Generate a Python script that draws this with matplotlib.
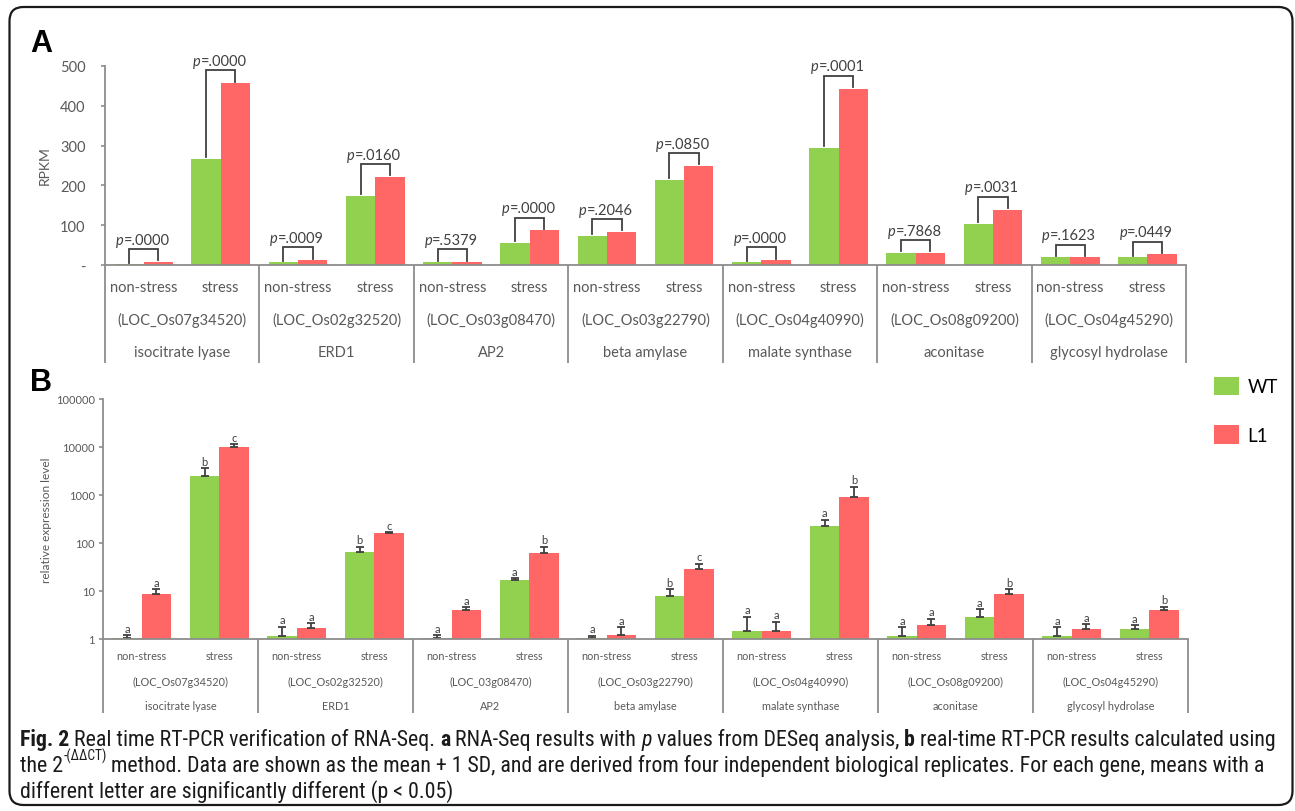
import matplotlib
matplotlib.use("Agg")
import matplotlib.pyplot as plt
import matplotlib.transforms as mtrans
from matplotlib import font_manager
from matplotlib.patches import FancyBboxPatch
from matplotlib.ticker import FixedLocator, FixedFormatter, NullLocator
import numpy as np

# ---------------- data ----------------
genes = ["isocitrate lyase", "ERD1", "AP2", "beta amylase", "malate synthase",
         "aconitase", "glycosyl hydrolase"]
loci_a = ["(LOC_Os07g34520)", "(LOC_Os02g32520)", "(LOC_Os03g08470)", "(LOC_Os03g22790)",
          "(LOC_Os04g40990)", "(LOC_Os08g09200)", "(LOC_Os04g45290)"]
loci_b = ["(LOC_Os07g34520)", "(LOC_Os02g32520)", "(LOC_03g08470)", "(LOC_Os03g22790)",
          "(LOC_Os04g40990)", "(LOC_Os08g09200)", "(LOC_Os04g45290)"]
conditions = ["non-stress", "stress"]
series = ["WT", "L1"]

# Panel A (RPKM), order: gene1 non-stress, gene1 stress, gene2 non-stress, ...
rpkm_wt = [2, 267, 7, 174, 7, 56, 73, 214, 7, 295, 30, 104, 19, 19]
rpkm_l1 = [8, 457, 12, 221, 7, 87, 83, 249, 12, 443, 30, 139, 19, 27]
p_values = [".0000", ".0000", ".0009", ".0160", ".5379", ".0000", ".2046",
            ".0850", ".0000", ".0001", ".7868", ".0031", ".1623", ".0449"]
a_ticks = [0, 100, 200, 300, 400, 500]
a_ticklabels = ["-", "100", "200", "300", "400", "500"]

# Panel B (relative expression, mean and +1 SD)
rel_wt = [1.03, 2520, 1.14, 66, 1.03, 17, 1.03, 8.0, 1.47, 223, 1.14, 2.9, 1.14, 1.59]
rel_wt_sd = [0.17, 1080, 0.66, 18, 0.17, 1.7, 0.14, 3.0, 1.43, 83, 0.61, 1.25, 0.61, 0.34]
rel_l1 = [8.5, 9860, 1.67, 159, 4.08, 61, 1.19, 29, 1.47, 922, 1.93, 8.5, 1.59, 4.08]
rel_l1_sd = [2.5, 1640, 0.45, 8, 0.5, 23, 0.56, 8, 0.83, 568, 0.72, 2.5, 0.46, 0.62]
letters_wt = ["a", "b", "a", "b", "a", "a", "a", "b", "a", "a", "a", "a", "a", "a"]
letters_l1 = ["a", "c", "a", "c", "a", "b", "a", "c", "a", "b", "a", "b", "a", "b"]
b_ticks = [1, 10, 100, 1000, 10000, 100000]
b_ticklabels = ["1", "10", "100", "1000", "10000", "100000"]

# caption pieces: (text, weight, style, size scale, raise in em)
caption_lines = [
    [("Fig. 2", "bold", "normal", 1.0, 0.0),
     (" Real time RT-PCR verification of RNA-Seq. ", "normal", "normal", 1.0, 0.0),
     ("a", "bold", "normal", 1.0, 0.0),
     (" RNA-Seq results with ", "normal", "normal", 1.0, 0.0),
     ("p", "normal", "italic", 1.0, 0.0),
     (" values from DESeq analysis, ", "normal", "normal", 1.0, 0.0),
     ("b", "bold", "normal", 1.0, 0.0),
     (" real-time RT-PCR results calculated using", "normal", "normal", 1.0, 0.0)],
    [("the 2", "normal", "normal", 1.0, 0.0),
     ("-(ΔΔCT)", "normal", "normal", 0.62, 0.5),
     (" method. Data are shown as the mean + 1 SD, and are derived from four independent "
      "biological replicates. For each gene, means with a", "normal", "normal", 1.0, 0.0)],
    [("different letter are significantly different (p < 0.05)", "normal", "normal", 1.0, 0.0)],
]

# ---------------- style ----------------
W, H, DPI = 1295, 812, 100
GREEN = "#92D050"
RED = "#FF6666"
AXC = "#8C8C8C"
TXT = "#595959"
DARK = "#404040"

names = {f.name for f in font_manager.fontManager.ttflist}
CHART_FONT = "Lato" if "Lato" in names else "DejaVu Sans"
CAP_FONT = "DejaVu Sans"
for cand in ["Roboto Condensed", "Liberation Sans Narrow", "Open Sans Condensed"]:
    if cand in names:
        CAP_FONT = cand
        break
PANEL_FONT = "Liberation Sans" if "Liberation Sans" in names else "DejaVu Sans"

plt.rcParams["font.family"] = [CHART_FONT, "DejaVu Sans"]

fig = plt.figure(figsize=(W / DPI, H / DPI), dpi=DPI)
renderer = fig.canvas.get_renderer()


def fx(px):
    return px / W


def fy(py):
    return 1 - py / H


n = len(rpkm_wt)
pos = np.arange(n) + 0.5
bw = 0.38


def setup_axis(ax, baseline_py, sep_bottom_py, row_py, loci, fs):
    for s in ["top", "right"]:
        ax.spines[s].set_visible(False)
    for s in ["left", "bottom"]:
        ax.spines[s].set_color(AXC)
        ax.spines[s].set_linewidth(1.3)
    ax.set_xlim(0, n)
    ax.xaxis.set_major_locator(NullLocator())
    ax.tick_params(axis="y", colors=AXC, labelcolor=TXT, length=3, width=1.2)
    tr = mtrans.blended_transform_factory(ax.transData, fig.transFigure)
    for k in range(0, n + 1, 2):
        ax.plot([k, k], [fy(baseline_py), fy(sep_bottom_py)], transform=tr,
                color=AXC, lw=1.3, clip_on=False, solid_capstyle="butt")
    for i in range(n):
        ax.text(pos[i], fy(row_py[0]), conditions[i % 2], transform=tr, ha="center",
                va="center", fontsize=fs, color=TXT)
    for g in range(len(genes)):
        xc = 2 * g + 1
        ax.text(xc, fy(row_py[1]), loci[g], transform=tr, ha="center", va="center",
                fontsize=fs, color=TXT)
        ax.text(xc, fy(row_py[2]), genes[g], transform=tr, ha="center", va="center",
                fontsize=fs, color=TXT)


# ---------------- panel A ----------------
axA = fig.add_axes([fx(105), fy(266), fx(1186 - 105), (266 - 67) / H])
axA.bar(pos - bw / 2, rpkm_wt, bw, color=GREEN, edgecolor="none")
axA.bar(pos + bw / 2, rpkm_l1, bw, color=RED, edgecolor="none")
axA.set_ylim(0, 500)
axA.yaxis.set_major_locator(FixedLocator(a_ticks))
axA.yaxis.set_major_formatter(FixedFormatter(a_ticklabels))
axA.tick_params(axis="y", labelsize=10.5, pad=11)
setup_axis(axA, 266, 364, [288, 320, 353], loci_a, 10.5)

for i in range(n):
    top = max(rpkm_wt[i], rpkm_l1[i]) + 32
    xl, xr = pos[i] - bw / 2, pos[i] + bw / 2
    axA.plot([xl, xl, xr, xr], [rpkm_wt[i] + 4, top, top, rpkm_l1[i] + 4],
             color=DARK, lw=1.3, solid_joinstyle="miter")
    axA.annotate("p", (pos[i], top), xytext=(-14.5, 4), textcoords="offset points",
                 ha="right", va="baseline", fontsize=10.5, color=DARK, style="italic")
    axA.annotate("=" + p_values[i], (pos[i], top), xytext=(-14.5, 4),
                 textcoords="offset points", ha="left", va="baseline", fontsize=10.5,
                 color=DARK)

fig.text(fx(45), fy(166), "RPKM", rotation=90, ha="center", va="center",
         fontsize=10, color=TXT)

# ---------------- panel B ----------------
axB = fig.add_axes([fx(103), fy(640), fx(1188 - 103), (640 - 400) / H])
axB.set_yscale("log")
bwt = axB.bar(pos - bw / 2, rel_wt, bw, color=GREEN, edgecolor="none", label=series[0])
bl1 = axB.bar(pos + bw / 2, rel_l1, bw, color=RED, edgecolor="none", label=series[1])
axB.errorbar(pos - bw / 2, rel_wt, yerr=[np.zeros(n), rel_wt_sd], fmt="none",
             ecolor=DARK, elinewidth=1.3, capsize=3, capthick=1.3)
axB.errorbar(pos + bw / 2, rel_l1, yerr=[np.zeros(n), rel_l1_sd], fmt="none",
             ecolor=DARK, elinewidth=1.3, capsize=3, capthick=1.3)
axB.set_ylim(1, 100000)
axB.yaxis.set_major_locator(FixedLocator(b_ticks))
axB.yaxis.set_major_formatter(FixedFormatter(b_ticklabels))
axB.yaxis.set_minor_locator(NullLocator())
axB.tick_params(axis="y", labelsize=8, pad=3)
setup_axis(axB, 640, 714, [657, 682, 707], loci_b, 7.8)

for i in range(n):
    axB.annotate(letters_wt[i], (pos[i] - bw / 2, rel_wt[i] + rel_wt_sd[i]), xytext=(0, 1),
                 textcoords="offset points", ha="center", va="bottom", fontsize=8, color=DARK)
    axB.annotate(letters_l1[i], (pos[i] + bw / 2, rel_l1[i] + rel_l1_sd[i]), xytext=(0, 1),
                 textcoords="offset points", ha="center", va="bottom", fontsize=8, color=DARK)

fig.text(fx(47), fy(520), "relative expression level", rotation=90, ha="center",
         va="center", fontsize=8.6, color=TXT)

fig.legend(handles=[bwt, bl1], labels=series, loc="upper left",
           bbox_to_anchor=(fx(1214), fy(378)), frameon=False, fontsize=13.5,
           handlelength=1.33, handleheight=1.12, handletextpad=0.45,
           labelspacing=1.6, borderpad=0, borderaxespad=0)

# ---------------- panel letters, frame, caption ----------------
fig.text(fx(30), fy(52), "A", fontsize=22, fontweight="bold", family=PANEL_FONT,
         va="baseline", ha="left")
fig.text(fx(30), fy(391), "B", fontsize=22, fontweight="bold", family=PANEL_FONT,
         va="baseline", ha="left")

frame = FancyBboxPatch((9.5, H - 806), 1292.5 - 9.5, 806 - 8,
                       boxstyle="round,pad=0,rounding_size=14",
                       transform=mtrans.IdentityTransform(), facecolor="none",
                       edgecolor="#1a1a1a", lw=1.6)
fig.patches.append(frame)

CAP_FAM = [CAP_FONT, "DejaVu Sans"]


def piece_width(s, fs, weight, style):
    t1 = fig.text(0, 0, "|" + s + "|", fontsize=fs, fontweight=weight, fontstyle=style,
                  family=CAP_FAM)
    t2 = fig.text(0, 0, "||", fontsize=fs, fontweight=weight, fontstyle=style,
                  family=CAP_FAM)
    w = t1.get_window_extent(renderer).width - t2.get_window_extent(renderer).width
    t1.remove()
    t2.remove()
    return w


def line_width(pieces, fs):
    return sum(piece_width(s, fs * sc, wt, st) for s, wt, st, sc, rz in pieces)


base_fs = 13.3
fs = base_fs * (1277 - 20) / line_width(caption_lines[0], base_fs)
for k, pieces in enumerate(caption_lines):
    x = 20.0
    yb = 746 + 26 * k
    for s, wt, st, sc, rz in pieces:
        pf = fs * sc
        fig.text(fx(x), fy(yb - rz * fs / 0.72), s, fontsize=pf, fontweight=wt,
                 fontstyle=st, family=CAP_FAM, va="baseline", ha="left", color="#1a1a1a")
        x += piece_width(s, pf, wt, st)

fig.savefig("out.png", dpi=DPI)
